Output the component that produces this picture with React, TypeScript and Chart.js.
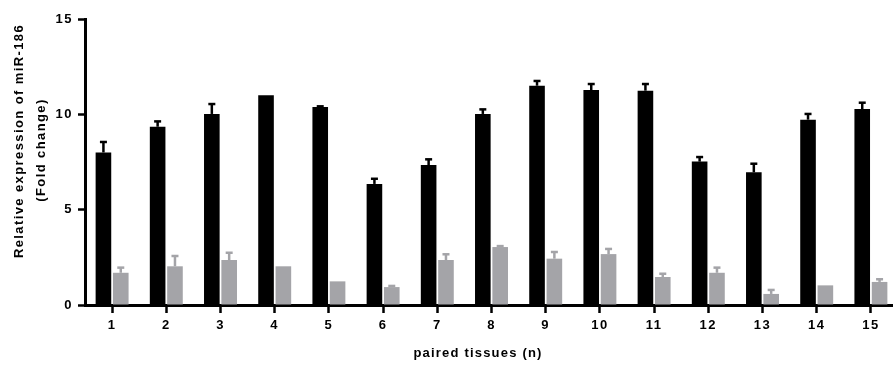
import React, { useEffect, useRef } from "react";
import { Chart, registerables } from "chart.js";

Chart.register(...registerables);

const categories = ["1", "2", "3", "4", "5", "6", "7", "8", "9", "10", "11", "12", "13", "14", "15"];
const tumorValues = [8.0, 9.35, 10.02, 11.0, 10.38, 6.35, 7.34, 10.02, 11.5, 11.27, 11.24, 7.52, 6.96, 9.72, 10.28];
const tumorErrors = [0.55, 0.28, 0.52, 0, 0.04, 0.27, 0.3, 0.24, 0.25, 0.32, 0.35, 0.24, 0.45, 0.3, 0.33];
const normalValues = [1.69, 2.03, 2.36, 2.03, 1.24, 0.94, 2.36, 3.04, 2.43, 2.67, 1.47, 1.69, 0.58, 1.03, 1.21];
const normalErrors = [0.27, 0.54, 0.38, 0, 0, 0.06, 0.3, 0.05, 0.35, 0.27, 0.17, 0.27, 0.21, 0, 0.14];
const yTicks = [0, 5, 10, 15];
const yTitleLines = ["Relative expression of miR-186", "(Fold change)"];
const xTitle = "paired tissues (n)";

const BLACK = "#000000";
const GRAY = "#a4a4a8";
const FONT = "'Liberation Sans', Arial, sans-serif";

export default function App() {
  const ref = useRef<HTMLCanvasElement | null>(null);

  useEffect(() => {
    const canvas = ref.current;
    if (!canvas) return;
    const errors = [tumorErrors, normalErrors];

    const spacingPlugin = {
      id: "spacing",
      beforeDraw(chart: any) {
        (chart.ctx as any).letterSpacing = "1.5px";
      },
      afterDraw(chart: any) {
        (chart.ctx as any).letterSpacing = "0px";
      },
    };

    const errorPlugin = {
      id: "errorBars",
      afterDatasetsDraw(chart: any) {
        const ctx = chart.ctx;
        const y = chart.scales.y;
        chart.data.datasets.forEach((ds: any, di: number) => {
          const meta = chart.getDatasetMeta(di);
          meta.data.forEach((bar: any, i: number) => {
            const e = errors[di][i];
            if (!e) return;
            const v = ds.data[i];
            const top = y.getPixelForValue(v + e);
            ctx.save();
            ctx.strokeStyle = ds.backgroundColor;
            ctx.lineWidth = 2.5;
            ctx.beginPath();
            ctx.moveTo(bar.x, bar.y);
            ctx.lineTo(bar.x, top);
            ctx.stroke();
            ctx.beginPath();
            ctx.moveTo(bar.x - 3.5, top);
            ctx.lineTo(bar.x + 3.5, top);
            ctx.stroke();
            ctx.restore();
          });
        });
      },
    };

    const titlePlugin = {
      id: "titles",
      afterDraw(chart: any) {
        const ctx = chart.ctx;
        ctx.save();
        ctx.fillStyle = BLACK;
        ctx.font = `bold 13px ${FONT}`;
        ctx.textAlign = "center";
        ctx.textBaseline = "middle";
        (ctx as any).letterSpacing = "1.4px";
        ctx.save();
        ctx.translate(19, 141);
        ctx.rotate(-Math.PI / 2);
        ctx.fillText(yTitleLines[0], 0, 0);
        ctx.restore();
        ctx.save();
        ctx.translate(41, 150);
        ctx.rotate(-Math.PI / 2);
        ctx.fillText(yTitleLines[1], 0, 0);
        ctx.restore();
        (ctx as any).letterSpacing = "1.2px";
        ctx.fillText(xTitle, 478, 353);
        ctx.restore();
      },
    };

    const chart = new Chart(canvas, {
      type: "bar",
      data: {
        labels: categories,
        datasets: [
          {
            label: "Tumor",
            data: tumorValues,
            backgroundColor: BLACK,
            borderWidth: 0,
            categoryPercentage: 0.64,
            barPercentage: 0.9,
          },
          {
            label: "Normal",
            data: normalValues,
            backgroundColor: GRAY,
            borderWidth: 0,
            categoryPercentage: 0.64,
            barPercentage: 0.9,
          },
        ],
      },
      options: {
        animation: false,
        responsive: false,
        maintainAspectRatio: false,
        layout: { padding: { top: 19, right: 12, left: 0, bottom: 0 } },
        plugins: {
          legend: { display: false },
          tooltip: { enabled: false },
          title: { display: false },
        },
        scales: {
          x: {
            offset: true,
            grid: {
              display: true,
              drawOnChartArea: false,
              drawTicks: true,
              tickLength: 8,
              tickWidth: 2.5,
              tickColor: BLACK,
              offset: false,
            },
            border: { display: true, color: BLACK, width: 3 },
            ticks: {
              color: BLACK,
              padding: 5,
              font: { family: FONT, size: 13, weight: "bold" },
              maxRotation: 0,
              autoSkip: false,
            },
            afterFit(scale: any) {
              scale.height = 63;
            },
          },
          y: {
            min: 0,
            max: 15,
            afterBuildTicks(scale: any) {
              scale.ticks = yTicks.map((v) => ({ value: v }));
            },
            grid: {
              display: true,
              drawOnChartArea: false,
              drawTicks: true,
              tickLength: 7,
              tickWidth: 2.5,
              tickColor: BLACK,
            },
            border: { display: true, color: BLACK, width: 3 },
            ticks: {
              color: BLACK,
              padding: 5,
              font: { family: FONT, size: 13, weight: "bold" },
            },
            afterFit(scale: any) {
              scale.width = 85;
            },
          },
        },
      },
      plugins: [spacingPlugin, errorPlugin, titlePlugin],
    });
    return () => chart.destroy();
  }, []);

  return (
    <div style={{ position: "fixed", left: 0, top: 0, width: 893, height: 368, overflow: "hidden", background: "#fff" }}>
      <canvas ref={ref} width={910} height={368} style={{ display: "block", width: 910, height: 368 }} />
    </div>
  );
}
